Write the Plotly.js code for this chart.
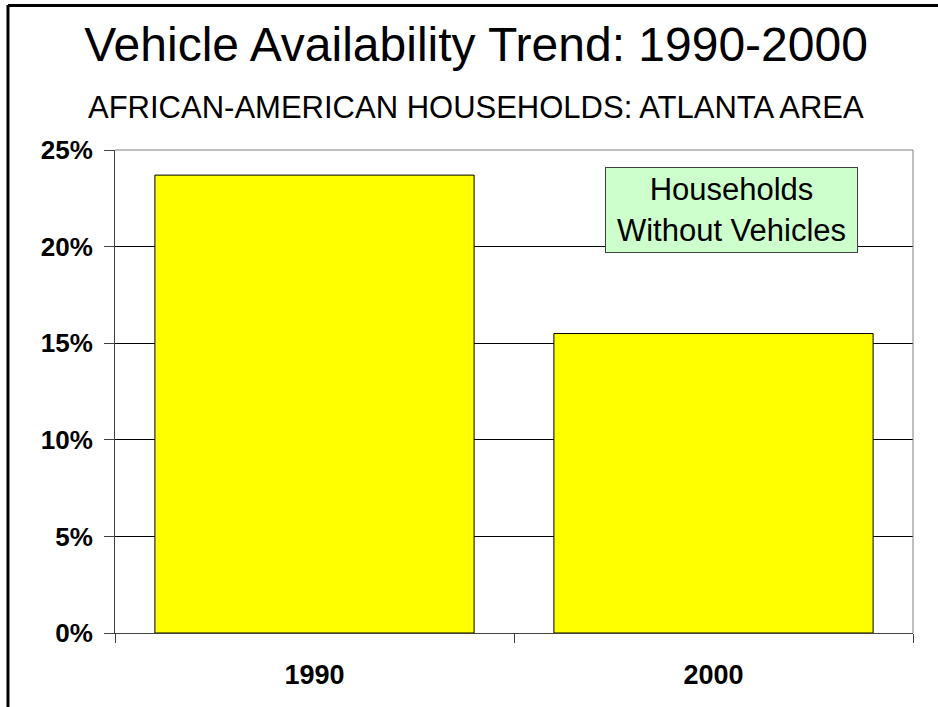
<!DOCTYPE html>
<html>
<head>
<meta charset="utf-8">
<script src="https://cdn.plot.ly/plotly-3.0.1.min.js"></script>
<style>
  html, body { margin: 0; padding: 0; background: #fff; }
  #chart { width: 938px; height: 707px; }
</style>
</head>
<body>
<div id="chart"></div>
<script>
// Share of African-American households without a vehicle, Atlanta area
const years = ['1990', '2000'];
const shareWithoutVehicle = [23.7, 15.5];
const yTicks = [0, 5, 10, 15, 20, 25];
const yTickLabels = ['0%', '5%', '10%', '15%', '20%', '25%'];

const FONT = 'Arial, "Liberation Sans", sans-serif';

const trace = {
  type: 'bar',
  x: years,
  y: shareWithoutVehicle,
  marker: { color: '#FFFF00', line: { color: '#000000', width: 1 } },
  hoverinfo: 'x+y'
};

const layout = {
  width: 938,
  height: 707,
  margin: { l: 115, r: 25, t: 150, b: 74 },
  paper_bgcolor: '#ffffff',
  plot_bgcolor: '#ffffff',
  showlegend: false,
  bargap: 0.2,
  font: { family: FONT, color: '#000' },
  title: {
    text: 'Vehicle Availability Trend: 1990-2000',
    font: { family: FONT, size: 48, color: '#000' },
    xref: 'container', x: 0.5075, xanchor: 'center',
    yref: 'container', y: 0.937, yanchor: 'middle'
  },
  xaxis: {
    type: 'category',
    showgrid: false,
    showline: true, linecolor: '#404040', linewidth: 1,
    ticks: 'outside', tickson: 'boundaries', ticklen: 9, tickcolor: '#404040',
    tickfont: { family: FONT, size: 27, weight: 'bold', color: '#000' },
    ticklabelstandoff: 18,
    fixedrange: true
  },
  yaxis: {
    range: [0, 25],
    tickvals: yTicks,
    ticktext: yTickLabels,
    showgrid: true, gridcolor: '#000000', gridwidth: 1,
    zeroline: false,
    showline: true, linecolor: '#404040', linewidth: 1,
    ticks: 'outside', ticklen: 10, tickcolor: '#404040',
    tickfont: { family: FONT, size: 26, weight: 'bold', color: '#000' },
    ticklabelstandoff: 6,
    fixedrange: true
  },
  annotations: [
    {
      text: 'AFRICAN-AMERICAN HOUSEHOLDS: ATLANTA AREA',
      xref: 'paper', yref: 'paper', x: 0.4524, y: 1.087,
      xanchor: 'center', yanchor: 'middle', showarrow: false,
      font: { family: FONT, size: 31, color: '#000' }
    },
    {
      text: 'Households<br>Without Vehicles',
      xref: 'paper', yref: 'paper', x: 0.7726, y: 0.8758,
      xanchor: 'center', yanchor: 'middle', showarrow: false,
      align: 'center',
      width: 251, height: 84, borderpad: 0,
      bgcolor: '#CCFFCC', bordercolor: '#404040', borderwidth: 1,
      font: { family: FONT, size: 31, color: '#000' }
    }
  ],
  shapes: [
    // plot area frame (top and right)
    { type: 'line', xref: 'paper', yref: 'paper', x0: 0, x1: 1, y0: 1, y1: 1,
      line: { color: '#808080', width: 1 }, layer: 'above' },
    { type: 'line', xref: 'paper', yref: 'paper', x0: 1, x1: 1, y0: 0, y1: 1,
      line: { color: '#808080', width: 1 }, layer: 'above' },
    // outer chart frame
    { type: 'line', xref: 'paper', yref: 'paper', x0: -0.1341, x1: -0.1341, y0: -0.3, y1: 1.3,
      line: { color: '#000000', width: 3 }, layer: 'above' },
    { type: 'line', xref: 'paper', yref: 'paper', x0: -0.1341, x1: 1.2, y0: 1.2992, y1: 1.2992,
      line: { color: '#000000', width: 3 }, layer: 'above' }
  ]
};

Plotly.newPlot('chart', [trace], layout, { displayModeBar: false });
</script>
</body>
</html>
